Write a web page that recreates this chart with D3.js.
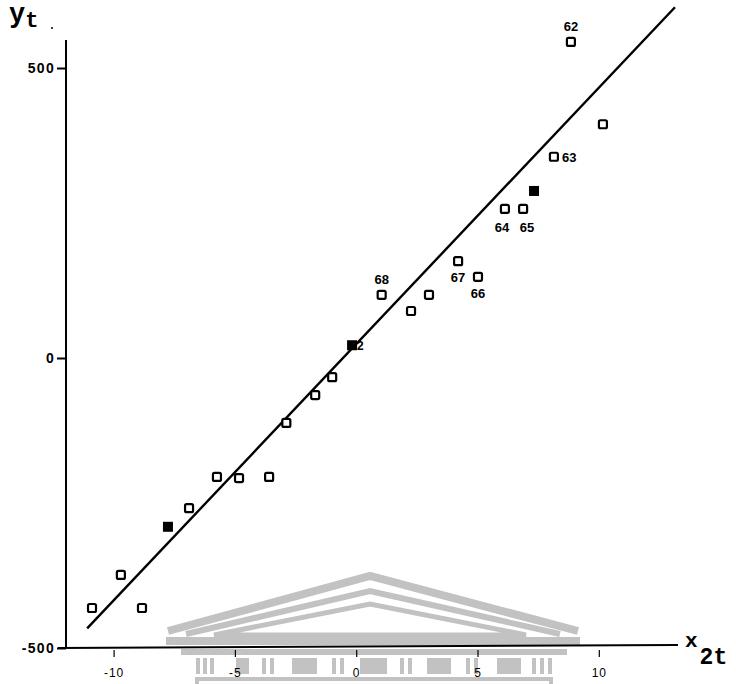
<!DOCTYPE html>
<html>
<head>
<meta charset="utf-8">
<script src="https://cdn.jsdelivr.net/npm/d3@7"></script>
<style>
  body { margin: 0; background: #fff; }
  svg { display: block; }
</style>
</head>
<body>
<div id="content"></div>
<script>
const openX = [-10.89, -9.70, -8.83, -6.89, -5.74, -4.83, -3.59, -2.88, -1.69, -0.99,
               1.05, 2.26, 3.00, 4.20, 5.02, 6.13, 6.88, 8.15, 8.85, 10.17];
const openY = [-431, -374, -431, -259, -205, -207, -205, -112, -64, -33,
               109, 81, 109, 167, 140, 257, 257, 347, 545, 403];
const openLabel = ["", "", "", "", "", "", "", "", "", "",
                   "68", "", "", "67", "66", "64", "65", "63", "62", ""];

const filledX = [-7.76, 7.33];
const filledY = [-291, 288];

const doubleX = [-0.17];   // marked point with "2"
const doubleY = [22];

// fitted line  y = a + b x
const lineA = 24, lineB = 44.2;
const lineFrom = -11.09, lineTo = 13.14;

const xTicks = [-10, -5, 0, 5, 10];
const yTicks = [-500, 0, 500];

// where each point label sits relative to its square
const labelPlace = { "62": "above", "68": "above", "63": "right",
                     "64": "belowL", "65": "belowR", "66": "below", "67": "below" };

//////////////////// drawing area
const W = 736, H = 684;
const svg = d3.select("#content").append("svg")
    .attr("width", W).attr("height", H);
svg.append("rect").attr("width", W).attr("height", H).attr("fill", "#fff");

const x = d3.scaleLinear().domain([-10, 10]).range([113.6, 598.8]);
const y = d3.scaleLinear().domain([-500, 500]).range([648, 68]);

//////////////////// faded watermark (building) behind the plot
const wm = svg.append("g").attr("fill", "none").attr("stroke", "#c2c2c2")
    .attr("stroke-linejoin", "miter");
wm.append("polyline").attr("points", "168,631 370,576 578,631").attr("stroke-width", 8);
wm.append("polyline").attr("points", "186,634 370,591 560,634").attr("stroke-width", 6);
wm.append("polygon").attr("points", "214,635 370,604 526,635").attr("stroke-width", 5);
const wmf = svg.append("g").attr("fill", "#c2c2c2");
wmf.append("rect").attr("x", 166).attr("y", 637).attr("width", 414).attr("height", 8);
wmf.append("rect").attr("x", 181).attr("y", 649).attr("width", 386).attr("height", 6);
// columns: thin bars and wide blocks
const bars = [196, 203, 210, 262, 270, 332, 340, 400, 408, 466, 474, 532, 540, 548];
const blocks = [[236, 13], [292, 25], [360, 27], [427, 24], [497, 24]];
bars.forEach(b => wmf.append("rect").attr("x", b).attr("y", 658).attr("width", 4).attr("height", 16));
blocks.forEach(b => wmf.append("rect").attr("x", b[0]).attr("y", 658).attr("width", b[1]).attr("height", 16));
wmf.append("rect").attr("x", 195).attr("y", 677).attr("width", 358).attr("height", 4);
wmf.append("rect").attr("x", 195).attr("y", 677).attr("width", 4).attr("height", 7);
wmf.append("rect").attr("x", 549).attr("y", 677).attr("width", 4).attr("height", 7);

//////////////////// axes
const axisG = svg.append("g").attr("stroke", "#000").attr("stroke-width", 2);
axisG.append("line").attr("x1", 66).attr("x2", 66).attr("y1", 40).attr("y2", y(-500));
axisG.append("line").attr("x1", 58).attr("x2", 678).attr("y1", y(-500)).attr("y2", y(-500) - 3);

const yAxis = svg.append("g")
    .attr("transform", "translate(66,0)")
    .call(d3.axisLeft(y).tickValues(yTicks).tickSize(9).tickPadding(2));
yAxis.select(".domain").remove();
yAxis.selectAll("line").attr("stroke-width", 2);
yAxis.selectAll("text")
    .style("font-family", "'Liberation Sans', Arial, sans-serif")
    .style("font-weight", "bold").style("font-size", "14px")
    .style("letter-spacing", "1.3px").attr("fill", "#000")
    .text(d => d < 0 ? "-" + Math.abs(d) : d);

const xAxis = svg.append("g")
    .attr("transform", "translate(0," + (y(-500) + 2) + ")")
    .call(d3.axisBottom(x).tickValues(xTicks).tickSize(7).tickPadding(11));
xAxis.select(".domain").remove();
xAxis.selectAll("line").attr("stroke-width", 1.2);
xAxis.selectAll("text")
    .style("font-family", "'Liberation Sans', Arial, sans-serif")
    .style("font-size", "12px").style("letter-spacing", "1px").attr("fill", "#000")
    .text(d => d < 0 ? "-" + Math.abs(d) : d);

// axis titles
const yt = svg.append("text").attr("x", 9).attr("y", 22)
    .style("font-family", "'Liberation Mono', 'DejaVu Sans Mono', monospace")
    .style("font-weight", "bold").attr("fill", "#000");
yt.append("tspan").style("font-size", "27px").text("y");
yt.append("tspan").style("font-size", "22px").attr("dy", 5).text("t");
svg.append("circle").attr("cx", 52).attr("cy", 28).attr("r", 1).attr("fill", "#000");

const xt = svg.append("text").attr("x", 685).attr("y", 647)
    .style("font-family", "'Liberation Mono', 'DejaVu Sans Mono', monospace")
    .style("font-weight", "bold").attr("fill", "#000");
xt.append("tspan").style("font-size", "21px").text("x");
xt.append("tspan").style("font-size", "23px").attr("dy", 17).attr("dx", 2).text("2t");

//////////////////// fitted line
svg.append("line")
    .attr("x1", x(lineFrom)).attr("y1", y(lineA + lineB * lineFrom))
    .attr("x2", x(lineTo)).attr("y2", y(lineA + lineB * lineTo))
    .attr("stroke", "#000").attr("stroke-width", 2.4);

//////////////////// points
const S = 8;
const openData = openX.map((v, i) => ({ x: v, y: openY[i], label: openLabel[i] }));
svg.selectAll(".open").data(openData).enter()
    .append("rect").attr("class", "open")
    .attr("x", d => x(d.x) - S / 2).attr("y", d => y(d.y) - S / 2)
    .attr("width", S).attr("height", S).attr("rx", 1.5)
    .attr("fill", "#fff").attr("stroke", "#000").attr("stroke-width", 2.2);

const filledData = filledX.map((v, i) => ({ x: v, y: filledY[i] }));
svg.selectAll(".filled").data(filledData).enter()
    .append("rect").attr("class", "filled")
    .attr("x", d => x(d.x) - 5).attr("y", d => y(d.y) - 5)
    .attr("width", 10).attr("height", 10).attr("fill", "#000");

const doubleData = doubleX.map((v, i) => ({ x: v, y: doubleY[i] }));
svg.selectAll(".double").data(doubleData).enter()
    .append("rect").attr("class", "double")
    .attr("x", d => x(d.x) - 5).attr("y", d => y(d.y) - 5)
    .attr("width", 10).attr("height", 10).attr("fill", "#000");
svg.selectAll(".doubleLab").data(doubleData).enter()
    .append("text").attr("class", "doubleLab")
    .attr("x", d => x(d.x) + 5).attr("y", d => y(d.y) + 5)
    .style("font-family", "'Liberation Sans', Arial, sans-serif")
    .style("font-weight", "bold").style("font-size", "12px").attr("fill", "#000")
    .text("2");

// point labels
const offs = { above: [0, -11], right: [8, 5], below: [0, 21],
               belowL: [-3, 23], belowR: [4, 23] };
svg.selectAll(".plab").data(openData.filter(d => d.label)).enter()
    .append("text").attr("class", "plab")
    .attr("x", d => x(d.x) + offs[labelPlace[d.label]][0])
    .attr("y", d => y(d.y) + offs[labelPlace[d.label]][1])
    .attr("text-anchor", d => labelPlace[d.label] === "right" ? "start" : "middle")
    .style("font-family", "'Liberation Sans Narrow', 'Liberation Sans', Arial, sans-serif")
    .style("font-weight", "bold").style("font-size", "13px").attr("fill", "#000")
    .text(d => d.label);
</script>
</body>
</html>
